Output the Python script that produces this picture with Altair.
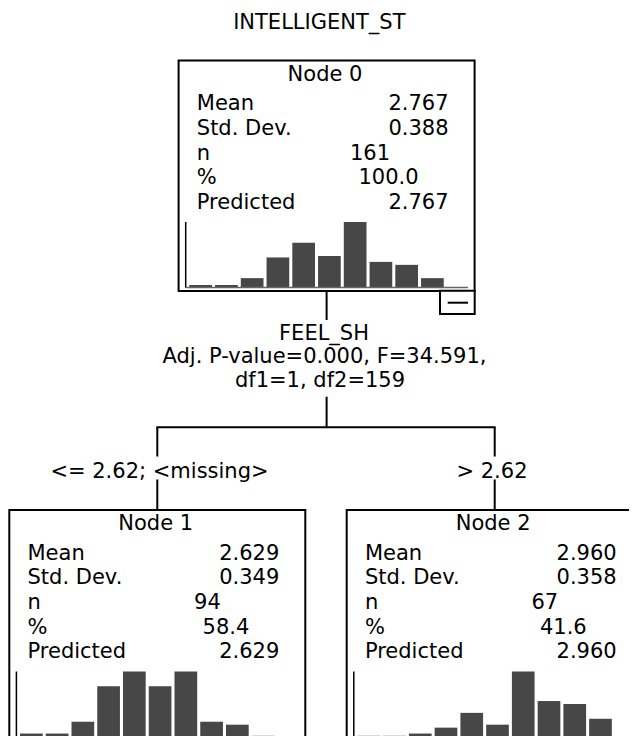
import altair as alt
import pandas as pd

# ---------------- data ----------------
chart_title = "INTELLIGENT_ST"
node_names = ["Node 0", "Node 1", "Node 2"]
row_labels = ["Mean", "Std. Dev.", "n", "%", "Predicted"]
node_mean = ["2.767", "2.629", "2.960"]
node_sd = ["0.388", "0.349", "0.358"]
node_n = ["161", "94", "67"]
node_pct = ["100.0", "58.4", "41.6"]
node_pred = ["2.767", "2.629", "2.960"]
hist_node0 = [1, 1, 6, 20, 30, 21, 44, 17, 15, 6]
hist_node1 = [1, 1, 5, 17, 22, 17, 22, 5, 4, 0]
hist_node2 = [0, 0, 1, 3, 8, 4, 22, 12, 11, 6]
split_variable = "FEEL_SH"
split_stats = ["Adj. P-value=0.000, F=34.591,", "df1=1, df2=159"]
branch_labels = ["<= 2.62;  <missing>", "> 2.62"]

hists = [hist_node0, hist_node1, hist_node2]

# ---------------- layout (page pixel coordinates) ----------------
FONT = "DejaVu Sans"
FS = 21
CAP = 0.729 * FS / 2          # half cap height, to place baselines
node_cx = [326.6, 157.3, 494.7]
node_top = [60.5, 510.0, 510.0]
BOX_W = 296.0
BOX_H = 230.5
ROW_DY = [42.2, 66.8, 91.4, 116.0, 140.6]
HIST_TOP = 161.5
HIST_BASE = 226.5
BAR_STEP = 25.75
BAR_W = 22.7
BAR_X0 = -137.3

boxes, bars, zero_bars, rules, thin_rules = [], [], [], [], []
t_left, t_right, t_center = [], [], []

t_center.append(dict(x=319.3, y=21.7 + CAP, text=chart_title))

for k in range(3):
    cx, top = node_cx[k], node_top[k]
    boxes.append(dict(x=cx - BOX_W / 2, x2=cx + BOX_W / 2, y=top, y2=top + BOX_H))
    t_center.append(dict(x=cx - 1.6, y=top + 12.8 + CAP, text=node_names[k]))
    vals = [node_mean[k], node_sd[k], node_n[k], node_pct[k], node_pred[k]]
    for r, lab in enumerate(row_labels):
        yb = top + ROW_DY[r] + CAP
        t_left.append(dict(x=cx - 129.8, y=yb, text=lab))
        if r in (0, 1, 4):
            t_right.append(dict(x=cx + 122.0, y=yb, text=vals[r]))
        elif r == 2:
            t_right.append(dict(x=cx + 63.5, y=yb, text=vals[r]))
        else:
            t_right.append(dict(x=cx + 92.0, y=yb, text=vals[r]))
    # histogram
    h = hists[k]
    m = max(h)
    base = top + HIST_BASE
    for i, c in enumerate(h):
        x0 = cx + BAR_X0 + i * BAR_STEP
        if c > 0:
            bars.append(dict(x=x0, x2=x0 + BAR_W, y=base - max(c / m * (HIST_BASE - HIST_TOP), 2.0), y2=base))
        else:
            zero_bars.append(dict(x=x0, x2=x0 + BAR_W, y=base - 1.3, y2=base))
    thin_rules.append(dict(x=cx - 140.9, x2=cx - 140.9, y=top + HIST_TOP, y2=base + 0.7, c="black"))
    thin_rules.append(dict(x=cx - 140.9, x2=cx + 141.4, y=base + 0.5, y2=base + 0.5, c="#666666"))

# collapse box on node 0
collapse = [dict(x=440.0, x2=474.7, y=290.7, y2=314.0)]
rules.append(dict(x=447.7, x2=468.0, y=302.7, y2=302.7))

# connectors
c0 = node_cx[0]
rules.append(dict(x=c0, x2=c0, y=node_top[0] + BOX_H, y2=320.0))
rules.append(dict(x=c0, x2=c0, y=396.7, y2=427.3))
rules.append(dict(x=node_cx[1] - 1, x2=node_cx[2] + 1, y=427.3, y2=427.3))
for k in (1, 2):
    rules.append(dict(x=node_cx[k], x2=node_cx[k], y=427.3, y2=456.5))
    rules.append(dict(x=node_cx[k], x2=node_cx[k], y=479.5, y2=node_top[k]))

t_center.append(dict(x=324.0, y=332.7 + CAP, text=split_variable))
t_center.append(dict(x=324.5, y=355.0 + CAP, text=split_stats[0]))
t_center.append(dict(x=320.0, y=379.3 + CAP, text=split_stats[1]))
t_center.append(dict(x=159.5, y=470.0 + CAP, text=branch_labels[0]))
t_center.append(dict(x=492.0, y=470.0 + CAP, text=branch_labels[1]))

# ---------------- chart ----------------
X = alt.X("x:Q", scale=alt.Scale(domain=[8, 629], nice=False, zero=False), axis=None)
Y = alt.Y("y:Q", scale=alt.Scale(domain=[8, 736], reverse=True, nice=False, zero=False), axis=None)


def rect_layer(rows, **kw):
    return alt.Chart(pd.DataFrame(rows)).mark_rect(**kw).encode(x=X, x2="x2:Q", y=Y, y2="y2:Q")


def text_layer(rows, align):
    return alt.Chart(pd.DataFrame(rows)).mark_text(
        align=align, baseline="alphabetic", font=FONT, fontSize=FS, color="black"
    ).encode(x=X, y=Y, text="text:N")


layers = [
    rect_layer(boxes, fill="white", stroke="black", strokeWidth=2),
    rect_layer(collapse, fill="white", stroke="black", strokeWidth=2),
    rect_layer(bars, color="#474747"),
    rect_layer(zero_bars, color="#cccccc"),
    alt.Chart(pd.DataFrame(thin_rules)).mark_rule(strokeWidth=1.5).encode(
        x=X, x2="x2:Q", y=Y, y2="y2:Q", color=alt.Color("c:N", scale=None)
    ),
    alt.Chart(pd.DataFrame(rules)).mark_rule(strokeWidth=2, color="black").encode(
        x=X, x2="x2:Q", y=Y, y2="y2:Q"
    ),
    text_layer(t_left, "left"),
    text_layer(t_right, "right"),
    text_layer(t_center, "center"),
]

chart = alt.layer(*layers).properties(
    width=621, height=728, padding=0, background="white",
    autosize=alt.AutoSizeParams(type="none"),
).configure_view(strokeWidth=0, stroke="transparent")

chart.save("out.html", embed_options={"renderer": "svg", "actions": False})
